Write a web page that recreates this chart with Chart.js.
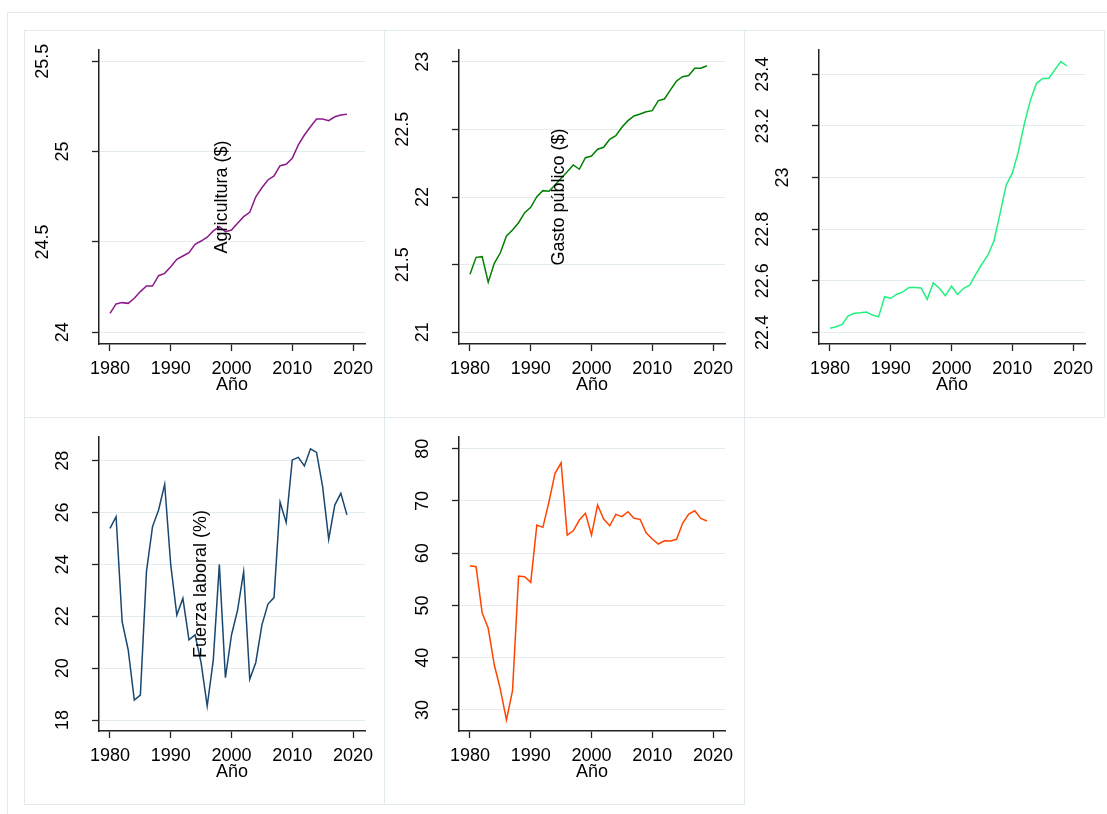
<!DOCTYPE html>
<html><head><meta charset="utf-8">
<script src="https://cdn.jsdelivr.net/npm/chart.js@4"></script>
<style>
html,body{margin:0;padding:0;background:#fff;width:1107px;height:814px;overflow:hidden;position:relative;}
.ln{position:absolute;background:#e1eaed;}
.cell{position:absolute;width:360px;height:387px;}
canvas{display:block;}
</style></head><body>
<div class="ln" style="left:7px;top:12px;width:1px;height:802px"></div>
<div class="ln" style="left:7px;top:12px;width:1100px;height:1px"></div>
<div class="ln" style="left:24px;top:30px;width:1081px;height:1px"></div>
<div class="ln" style="left:24px;top:417px;width:1081px;height:1px"></div>
<div class="ln" style="left:24px;top:804px;width:721px;height:1px"></div>
<div class="ln" style="left:24px;top:30px;width:1px;height:775px"></div>
<div class="ln" style="left:384px;top:30px;width:1px;height:775px"></div>
<div class="ln" style="left:744px;top:30px;width:1px;height:775px"></div>
<div class="ln" style="left:1104px;top:30px;width:1px;height:388px"></div>
<div class="cell" style="left:24px;top:30px"><canvas id="c1" width="360" height="387"></canvas></div>
<div class="cell" style="left:384px;top:30px"><canvas id="c2" width="360" height="387"></canvas></div>
<div class="cell" style="left:744px;top:30px"><canvas id="c3" width="360" height="387"></canvas></div>
<div class="cell" style="left:24px;top:417px"><canvas id="c4" width="360" height="387"></canvas></div>
<div class="cell" style="left:384px;top:417px"><canvas id="c5" width="360" height="387"></canvas></div>
<script>
const years = [1980,1981,1982,1983,1984,1985,1986,1987,1988,1989,1990,1991,1992,1993,1994,1995,1996,1997,1998,1999,2000,2001,2002,2003,2004,2005,2006,2007,2008,2009,2010,2011,2012,2013,2014,2015,2016,2017,2018,2019];
const agricultura = [24.105,24.157,24.164,24.16,24.188,24.225,24.256,24.256,24.313,24.326,24.363,24.404,24.422,24.44,24.487,24.505,24.526,24.561,24.584,24.557,24.566,24.603,24.64,24.664,24.75,24.80,24.843,24.865,24.922,24.93,24.963,25.037,25.092,25.138,25.181,25.181,25.171,25.193,25.203,25.207];
const gastoPublico = [21.429,21.554,21.559,21.370,21.51,21.588,21.712,21.756,21.81,21.884,21.924,22.002,22.047,22.042,22.089,22.138,22.187,22.237,22.205,22.29,22.303,22.353,22.367,22.426,22.453,22.515,22.564,22.599,22.613,22.63,22.638,22.712,22.724,22.791,22.857,22.889,22.897,22.951,22.951,22.97];
const serie3 = [22.416,22.422,22.431,22.464,22.474,22.476,22.479,22.467,22.46,22.538,22.532,22.548,22.557,22.574,22.574,22.572,22.528,22.592,22.571,22.542,22.579,22.547,22.571,22.583,22.626,22.664,22.70,22.755,22.861,22.971,23.016,23.10,23.21,23.30,23.365,23.384,23.384,23.417,23.449,23.432];
const fuerzaLaboral = [25.39,25.84,21.79,20.70,18.77,18.96,23.72,25.46,26.10,27.09,23.98,22.05,22.69,21.09,21.28,20.2,18.54,20.31,24.0,19.63,21.28,22.24,23.72,19.57,20.22,21.66,22.47,22.72,26.40,25.62,28.03,28.13,27.80,28.46,28.32,27.0,24.97,26.29,26.74,25.91];
const serie5 = [57.61,57.42,48.62,45.63,38.61,33.96,28.09,33.7,55.64,55.51,54.43,65.39,64.95,69.85,75.28,77.31,63.48,64.30,66.35,67.63,63.48,69.22,66.54,65.26,67.44,66.99,67.94,66.67,66.48,63.92,62.71,61.76,62.39,62.33,62.66,65.72,67.5,68.13,66.67,66.16];
const xTicks = [1980,1990,2000,2010,2020];
const yTicksAgri = [24,24.5,25,25.5];
const yTicksGasto = [21,21.5,22,22.5,23];
const yTicks3 = [22.4,22.6,22.8,23,23.2,23.4];
const yTicksFuerza = [18,20,22,24,26,28];
const yTicks5 = [30,40,50,60,70,80];

const FAM = '"Liberation Sans", Arial, Helvetica, sans-serif';

const panels = [
  {id:'c1', data:agricultura, color:'#8a1a8a', ticks:yTicksAgri, min:23.935, max:25.5625, title:'Agricultura ($)', titleOff:123},
  {id:'c2', data:gastoPublico, color:'#008000', ticks:yTicksGasto, min:20.914, max:23.086, title:'Gasto público ($)', titleOff:100},
  {id:'c3', data:serie3, color:'#22f07f', ticks:yTicks3, min:22.355, max:23.494, title:'', titleOff:0},
  {id:'c4', data:fuerzaLaboral, color:'#1a476f', ticks:yTicksFuerza, min:17.576, max:28.914, title:'Fuerza laboral (%)', titleOff:102},
  {id:'c5', data:serie5, color:'#ff4500', ticks:yTicks5, min:25.98, max:82.24, title:'', titleOff:0}
];

const yLabelPlugin = {
  id:'yLabels',
  afterDraw(chart, args, opts) {
    const s = chart.scales.y, ctx = chart.ctx, ca = chart.chartArea;
    ctx.save();
    ctx.font = '18px ' + FAM;
    ctx.fillStyle = '#000';
    ctx.textAlign = 'center';
    ctx.textBaseline = 'alphabetic';
    s.ticks.forEach(t => {
      const label = String(t.value);
      const py = s.getPixelForValue(t.value);
      const off = 37 + (label.length - 2) * 10;
      ctx.save();
      ctx.translate(ca.left - off + 6.4, py);
      ctx.rotate(-Math.PI/2);
      ctx.fillText(label, 0, 0);
      ctx.restore();
    });
    const p = opts.panel;
    if (p && p.title) {
      ctx.save();
      ctx.textBaseline = 'middle';
      ctx.translate(ca.left + p.titleOff, (ca.top + ca.bottom)/2);
      ctx.rotate(-Math.PI/2);
      ctx.fillText(p.title, 0, 0);
      ctx.restore();
    }
    ctx.restore();
  }
};

panels.forEach(p => {
  new Chart(document.getElementById(p.id), {
    type:'line',
    data:{ datasets:[{ data: years.map((y,i)=>({x:y, y:p.data[i]})), borderColor:p.color, borderWidth:1.5, pointRadius:0, tension:0, fill:false }]},
    options:{
      responsive:false, animation:false, devicePixelRatio:1,
      layout:{ padding:{ top:20, right:19, left:0, bottom:0 } },
      plugins:{ legend:{display:false}, tooltip:{enabled:false}, yLabels:{ panel:p } },
      scales:{
        x:{
          type:'linear', min:1978.19, max:2021.975,
          afterBuildTicks: s => { s.ticks = xTicks.map(v => ({value:v})); },
          afterFit: s => { s.height = 73; },
          grid:{ drawOnChartArea:false, drawTicks:true, tickLength:7, tickColor:'#222', tickWidth:1.3 },
          border:{ display:true, color:'#222', width:1.5 },
          ticks:{ font:{size:18, family:FAM}, color:'#000', padding:7, maxRotation:0, autoSkip:false, callback: v => String(v) },
          title:{ display:true, text:'Año', font:{size:18, family:FAM}, color:'#000', padding:{top:0, bottom:21} }
        },
        y:{
          min:p.min, max:p.max,
          afterBuildTicks: s => { s.ticks = p.ticks.map(v => ({value:v})); },
          afterFit: s => { s.width = 75; },
          grid:{ color:'#e3ecee', lineWidth:1, drawTicks:true, tickLength:7, tickColor:'#222', tickWidth:1.3 },
          border:{ display:true, color:'#222', width:1.5 },
          ticks:{ display:false }
        }
      }
    },
    plugins:[yLabelPlugin]
  });
});
</script>
</body></html>
